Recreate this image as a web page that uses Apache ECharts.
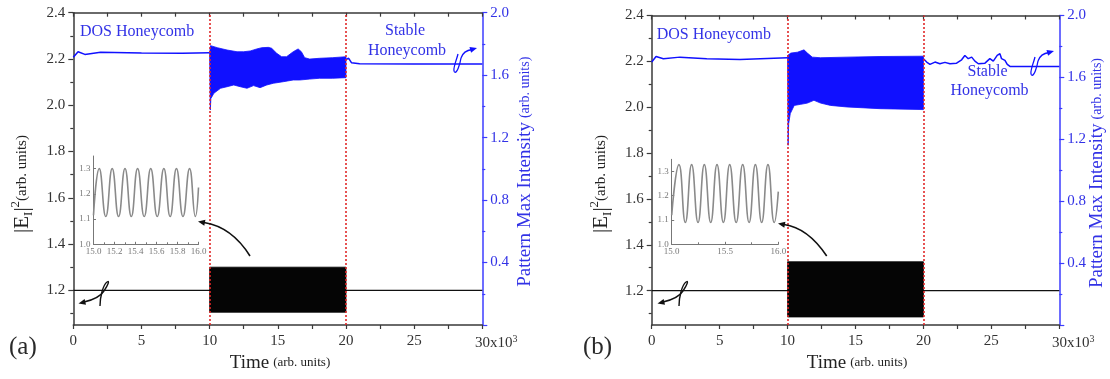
<!DOCTYPE html>
<html><head><meta charset="utf-8">
<script src="https://cdn.jsdelivr.net/npm/echarts@6/dist/echarts.min.js"></script>
<style>html,body{margin:0;padding:0;background:#fff}#c{width:1110px;height:379px}</style>
</head><body><div id="c"></div><script>
// ---------- data ----------
const leftTickLabels = [1.2, 1.4, 1.6, 1.8, 2.0, 2.2, 2.4];
const leftMinorTicks = [1.1, 1.3, 1.5, 1.7, 1.9, 2.1, 2.3];
const insetYTicks = [1.0, 1.1, 1.2, 1.3];
const switchTimes = [10, 20];

// panel (a) - blue: pattern max intensity (right axis)
const aPreT = [0, 0.35, 0.85, 2, 5, 8, 10];
const aPreV = [1.714, 1.750, 1.733, 1.746, 1.742, 1.740, 1.744];
const aBandHiT = [10.0, 10.07, 10.56, 11.28, 12.01, 12.49, 12.98, 13.46, 13.83, 14.31, 14.55, 14.92, 15.28, 15.64, 16.13, 16.49, 16.73, 16.97, 17.34, 18.06, 19.03, 20.0];
const aBandHiV = [1.744, 1.789, 1.776, 1.761, 1.750, 1.750, 1.755, 1.768, 1.776, 1.778, 1.772, 1.740, 1.718, 1.718, 1.750, 1.768, 1.750, 1.712, 1.703, 1.708, 1.712, 1.718];
const aBandLoT = [10.0, 10.05, 10.09, 10.31, 10.80, 11.28, 11.77, 12.25, 12.74, 13.22, 13.70, 14.19, 14.67, 15.40, 16.13, 16.61, 17.34, 18.06, 19.03, 20.0];
const aBandLoV = [1.744, 1.377, 1.45, 1.484, 1.516, 1.526, 1.537, 1.526, 1.516, 1.533, 1.520, 1.537, 1.548, 1.558, 1.569, 1.569, 1.575, 1.580, 1.580, 1.584];
const aPostT = [20.0, 20.1, 20.2, 20.4, 21, 25, 30];
const aPostV = [1.70, 1.70, 1.708, 1.68, 1.673, 1.672, 1.672];
// panel (a) - black: |E1|^2 (left axis)
const aBlackT = [0, 10, 20, 30];
const aBlackV = [1.2, 1.2, 1.2, 1.2];
const aBlackBandT = [10.0, 20.0];
const aBlackHi = [1.30, 1.30];
const aBlackLo = [1.105, 1.105];
// panel (a) inset
const aInsetT = [15.0, 15.055, 15.117, 15.178, 15.239, 15.30, 15.36, 15.42, 15.483, 15.545, 15.607, 15.67, 15.73, 15.79, 15.852, 15.915, 15.97, 16.0];
const aInsetV = [1.115, 1.30, 1.11, 1.30, 1.11, 1.30, 1.11, 1.30, 1.11, 1.30, 1.11, 1.30, 1.11, 1.30, 1.11, 1.30, 1.11, 1.225];

// panel (b) - blue
const bPreT = [0, 0.32, 0.86, 2.08, 4.05, 6.5, 10.0];
const bPreV = [1.699, 1.735, 1.721, 1.731, 1.721, 1.716, 1.727];
const bBandHiT = [10.0, 10.24, 10.73, 11.21, 11.46, 11.82, 12.43, 14.37, 16.80, 20.0];
const bBandHiV = [1.742, 1.757, 1.763, 1.778, 1.757, 1.731, 1.727, 1.731, 1.735, 1.737];
const bBandLoT = [10.0, 10.04, 10.08, 10.2, 10.49, 10.97, 11.46, 11.94, 12.43, 13.16, 14.37, 16.80, 20.0];
const bBandLoV = [1.727, 1.161, 1.30, 1.366, 1.419, 1.426, 1.434, 1.452, 1.434, 1.419, 1.409, 1.398, 1.392];
const bPostT = [20.0, 20.24, 20.48, 20.85, 21.21, 21.58, 21.95, 22.44, 22.81, 23.05, 23.30, 23.55, 23.79, 24.04, 24.53, 24.89, 25.14, 25.43, 25.63, 25.75, 26.0, 26.17, 26.37, 30];
const bPostV = [1.72, 1.699, 1.684, 1.699, 1.688, 1.697, 1.688, 1.692, 1.714, 1.742, 1.721, 1.731, 1.705, 1.688, 1.692, 1.721, 1.705, 1.742, 1.753, 1.721, 1.710, 1.684, 1.671, 1.671];
// panel (b) - black
const bBlackT = [0, 10, 20, 30];
const bBlackV = [1.2, 1.2, 1.2, 1.2];
const bBlackBandT = [10.0, 20.0];
const bBlackHi = [1.326, 1.326];
const bBlackLo = [1.085, 1.085];
// panel (b) inset
const bInsetT = [15.0, 15.068, 15.128, 15.187, 15.247, 15.306, 15.366, 15.425, 15.485, 15.544, 15.605, 15.666, 15.726, 15.785, 15.844, 15.903, 15.962, 16.0];
const bInsetV = [1.12, 1.328, 1.09, 1.328, 1.09, 1.328, 1.09, 1.328, 1.09, 1.328, 1.09, 1.328, 1.09, 1.328, 1.09, 1.328, 1.09, 1.217];

// ---------- styles ----------
const FONT = "'Liberation Serif','Times New Roman',serif";
const AX = '#3a3a3a';
const BLUE = '#1010ff';
const BLUE_AX = '#3c3cff';
const BLUE_TXT = '#3232e6';
const RED = '#e02828';
const GRAY = '#8a8a8a';
const zip = (a, b) => a.map((v, i) => [v, b[i]]);

const grids = [
  {left: 73.3, top: 12.7, width: 409, height: 312.3},
  {left: 93.5, top: 156, width: 105, height: 88.3},
  {left: 651.7, top: 15.5, width: 407.6, height: 309.5},
  {left: 671.7, top: 159.3, width: 106.6, height: 85}
];

const xAxes = [], yAxes = [], series = [];

function buildPanel(p, d) {
  const gMain = p * 2, gIn = p * 2 + 1;
  const xi = xAxes.length;
  xAxes.push({
    type: 'value', gridIndex: gMain, position: 'bottom', min: 0, max: 30, interval: 5,
    axisLine: {show: true, onZero: false, lineStyle: {color: AX, width: 1.5}},
    axisTick: {show: true, inside: false, length: 4, lineStyle: {color: AX, width: 1.2}},
    minorTick: {show: true, splitNumber: 2, length: 4, lineStyle: {color: AX, width: 1.2}},
    splitLine: {show: false}, minorSplitLine: {show: false},
    axisLabel: {
      show: true, margin: 9, color: '#333', fontFamily: FONT, fontSize: 15,
      formatter: v => v === 30 ? '{n|30x10}{s|3}' : String(v),
      rich: {
        n: {fontFamily: FONT, fontSize: 15, color: '#333', padding: [0, 0, 0, 28]},
        s: {fontFamily: FONT, fontSize: 10, color: '#333', verticalAlign: 'top', padding: [0, 0, 8, 0]}
      }
    }
  });
  xAxes.push({
    type: 'value', gridIndex: gMain, position: 'top', min: 0, max: 30, interval: 2.5,
    axisLine: {show: true, onZero: false, lineStyle: {color: AX, width: 1.5}},
    axisTick: {show: true, inside: true, length: 4, lineStyle: {color: AX, width: 1.2}},
    axisLabel: {show: false}, splitLine: {show: false}
  });
  const xInset = xAxes.length;
  xAxes.push({
    type: 'value', gridIndex: gIn, position: 'bottom', min: 15, max: 16, interval: p === 0 ? 0.2 : 0.5,
    axisLine: {show: true, onZero: false, lineStyle: {color: '#777', width: 1}},
    axisTick: {show: true, inside: true, length: 2.5, lineStyle: {color: '#777'}},
    minorTick: {show: true, splitNumber: 2, length: 2, lineStyle: {color: '#777'}},
    splitLine: {show: false},
    axisLabel: {show: true, margin: 3, color: '#777', fontFamily: FONT, fontSize: 9, formatter: v => v.toFixed(1)}
  });

  const yl = yAxes.length;
  yAxes.push({
    type: 'value', gridIndex: gMain, position: 'left', min: 1.05, max: 2.4,
    axisLine: {show: true, onZero: false, lineStyle: {color: AX, width: 1.5}},
    axisTick: {show: true, inside: false, length: 5, customValues: leftTickLabels, lineStyle: {color: AX, width: 1.2}},
    axisLabel: {show: true, margin: 8, customValues: leftTickLabels, color: '#333', fontFamily: FONT, fontSize: 15, formatter: v => v.toFixed(1)},
    splitLine: {show: false}
  });
  yAxes.push({
    type: 'value', gridIndex: gMain, position: 'left', min: 1.05, max: 2.4,
    axisLine: {show: false},
    axisTick: {show: true, inside: false, length: 3, customValues: leftMinorTicks, lineStyle: {color: AX, width: 1.2}},
    axisLabel: {show: false}, splitLine: {show: false}
  });
  const yr = yAxes.length;
  yAxes.push({
    type: 'value', gridIndex: gMain, position: 'right', min: 0, max: 2, interval: 0.4,
    axisLine: {show: true, onZero: false, lineStyle: {color: BLUE_AX, width: 1.5}},
    axisTick: {show: true, inside: false, length: 5, lineStyle: {color: BLUE_AX, width: 1.2}},
    minorTick: {show: true, splitNumber: 2, length: 3, lineStyle: {color: BLUE_AX, width: 1.2}},
    axisLabel: {show: true, margin: 8, showMinLabel: false, color: BLUE_TXT, fontFamily: FONT, fontSize: 15, formatter: v => v.toFixed(1)},
    splitLine: {show: false}, minorSplitLine: {show: false}
  });
  const yIn = yAxes.length;
  yAxes.push({
    type: 'value', gridIndex: gIn, position: 'left', min: 1.0, max: 1.35,
    axisLine: {show: true, onZero: false, lineStyle: {color: '#777', width: 1}},
    axisTick: {show: true, inside: true, length: 2.5, customValues: insetYTicks, lineStyle: {color: '#777'}},
    axisLabel: {show: true, margin: 3, customValues: insetYTicks, color: '#777', fontFamily: FONT, fontSize: 9, formatter: v => v.toFixed(1)},
    splitLine: {show: false}
  });

  // black line at steady level
  series.push({
    type: 'line', xAxisIndex: xi, yAxisIndex: yl, data: zip(d.blackT, d.blackV),
    showSymbol: false, symbol: 'none', lineStyle: {color: '#111', width: 1.3}, z: 3, silent: true,
    markLine: {
      silent: true, symbol: 'none', z: 20, label: {show: false},
      lineStyle: {color: RED, type: [2, 2], width: 1.6},
      data: switchTimes.map(t => ({xAxis: t}))
    }
  });
  series.push(band(xi, yl, d.blackBandT, d.blackHi, d.blackBandT, d.blackLo, '#050505', 4));
  // blue pattern max intensity
  series.push({type: 'line', xAxisIndex: xi, yAxisIndex: yr, data: zip(d.preT, d.preV), showSymbol: false, symbol: 'none', lineStyle: {color: BLUE, width: 1.5}, z: 5, silent: true});
  series.push(band(xi, yr, d.hiT, d.hiV, d.loT, d.loV, BLUE, 5));
  series.push({type: 'line', xAxisIndex: xi, yAxisIndex: yr, data: zip(d.postT, d.postV), showSymbol: false, symbol: 'none', lineStyle: {color: BLUE, width: 1.5}, z: 5, silent: true});
  // inset
  series.push({type: 'line', xAxisIndex: xInset, yAxisIndex: yIn, data: zip(d.inT, d.inV), smooth: 0.5, showSymbol: false, symbol: 'none', lineStyle: {color: GRAY, width: 1.6}, z: 6, silent: true});
}

function band(xi, yi, hiT, hiV, loT, loV, color, z) {
  return {
    type: 'custom', xAxisIndex: xi, yAxisIndex: yi, z: z, silent: true,
    data: [[hiT[0], hiV[0]]],
    renderItem: (params, api) => {
      const pts = [];
      for (let i = 0; i < hiT.length; i++) pts.push(api.coord([hiT[i], hiV[i]]));
      for (let i = loT.length - 1; i >= 0; i--) pts.push(api.coord([loT[i], loV[i]]));
      return {type: 'polygon', shape: {points: pts}, style: {fill: color, stroke: color, lineWidth: 0.8}};
    }
  };
}

buildPanel(0, {blackT: aBlackT, blackV: aBlackV, blackBandT: aBlackBandT, blackHi: aBlackHi, blackLo: aBlackLo,
  preT: aPreT, preV: aPreV, hiT: aBandHiT, hiV: aBandHiV, loT: aBandLoT, loV: aBandLoV, postT: aPostT, postV: aPostV,
  inT: aInsetT, inV: aInsetV});
buildPanel(1, {blackT: bBlackT, blackV: bBlackV, blackBandT: bBlackBandT, blackHi: bBlackHi, blackLo: bBlackLo,
  preT: bPreT, preV: bPreV, hiT: bBandHiT, hiV: bBandHiV, loT: bBandLoT, loV: bBandLoV, postT: bPostT, postV: bPostV,
  inT: bInsetT, inV: bInsetV});

// ---------- annotations ----------
function arrowHead(tip, from, color) {
  const dx = tip[0] - from[0], dy = tip[1] - from[1], L = Math.hypot(dx, dy), ux = dx / L, uy = dy / L;
  const bx = tip[0] - ux * 7, by = tip[1] - uy * 7;
  return {type: 'polygon', shape: {points: [tip, [bx - uy * 3, by + ux * 3], [bx + uy * 3, by - ux * 3]]}, style: {fill: color}, z: 100, silent: true};
}
function cubic(s, dx, dy, color, w) {
  return {type: 'bezierCurve', silent: true, z: 100,
    shape: {x1: s[0] + dx, y1: s[1] + dy, cpx1: s[2] + dx, cpy1: s[3] + dy, cpx2: s[4] + dx, cpy2: s[5] + dy, x2: s[6] + dx, y2: s[7] + dy},
    style: {stroke: color, lineWidth: w, fill: 'none'}};
}
const blackSquiggle = [[84, 302, 93, 300, 100, 297, 104, 291], [104, 291, 108, 285, 110, 280, 107, 282], [107, 282, 103, 285, 100, 297, 100, 306]];
const blueSquiggle = [[458, 54, 456, 62, 452, 70, 454.5, 72], [454.5, 72, 457, 74, 460, 64, 461, 58], [461, 58, 463, 52, 468, 50, 472, 49.5]];
const graphics = [];
[[0, 0], [579, 0]].forEach(([dx, dy]) => {
  blackSquiggle.forEach(s => graphics.push(cubic(s, dx, dy, '#111', 1.4)));
  graphics.push(arrowHead([78.5 + dx, 303.5 + dy], [85 + dx, 302 + dy], '#111'));
});
[[0, 0], [577, 3]].forEach(([dx, dy]) => {
  blueSquiggle.forEach(s => graphics.push(cubic(s, dx, dy, BLUE, 1.3)));
  graphics.push(arrowHead([477 + dx, 48 + dy], [471 + dx, 49.7 + dy], BLUE));
});
graphics.push(cubic([250, 256, 240, 240, 226, 226, 204, 222.5], 0, 0, '#111', 1.6));
graphics.push(arrowHead([198, 221.5], [206, 223], '#111'));
graphics.push(cubic([826.7, 256, 816, 240, 802, 227, 784, 224.5], 0, 0, '#111', 1.6));
graphics.push(arrowHead([778, 223.5], [786, 225], '#111'));

function txt(text, x, y, opt) {
  return Object.assign({type: 'text', silent: true, z: 110, x: x, y: y,
    style: Object.assign({text: text, fontFamily: FONT, fontSize: 16, fill: BLUE_TXT, align: 'center', verticalAlign: 'middle'}, opt || {})});
}
graphics.push(txt('DOS Honeycomb', 80, 32, {align: 'left'}));
graphics.push(txt('Stable', 405, 30.7));
graphics.push(txt('Honeycomb', 407, 50.7));
graphics.push(txt('DOS Honeycomb', 656.7, 35, {align: 'left'}));
graphics.push(txt('Stable', 987.5, 71.7));
graphics.push(txt('Honeycomb', 989.5, 90.7));
graphics.push(txt('(a)', 9, 347.5, {align: 'left', fontSize: 25, fill: '#2a2a2a'}));
graphics.push(txt('(b)', 583, 347.5, {align: 'left', fontSize: 25, fill: '#2a2a2a'}));

const xTitleRich = {
  t: {fontFamily: FONT, fontSize: 19, fill: '#222'},
  s: {fontFamily: FONT, fontSize: 13, fill: '#222'}
};
graphics.push(txt('{t|Time} {s|(arb. units)}', 280, 363, {rich: xTitleRich, fill: '#222'}));
graphics.push(txt('{t|Time} {s|(arb. units)}', 857, 363, {rich: xTitleRich, fill: '#222'}));

const leftTitleRich = {
  b: {fontFamily: FONT, fontSize: 21, fill: '#222', lineHeight: 26, verticalAlign: 'middle'},
  sub: {fontFamily: FONT, fontSize: 13, fill: '#222', verticalAlign: 'bottom', lineHeight: 26},
  sup: {fontFamily: FONT, fontSize: 13, fill: '#222', verticalAlign: 'top', lineHeight: 26},
  s: {fontFamily: FONT, fontSize: 15, fill: '#222', lineHeight: 26, verticalAlign: 'middle'}
};
const leftTitle = '{b||E}{sub|I}{b||}{sup|2}{s|(arb. units)}';
graphics.push(Object.assign(txt(leftTitle, 22, 184, {rich: leftTitleRich, fill: '#222'}), {rotation: Math.PI / 2}));
graphics.push(Object.assign(txt(leftTitle, 601, 184, {rich: leftTitleRich, fill: '#222'}), {rotation: Math.PI / 2}));

const rightTitleRich = {
  b: {fontFamily: FONT, fontSize: 19, fill: BLUE_TXT},
  s: {fontFamily: FONT, fontSize: 14, fill: BLUE_TXT}
};
const rightTitle = '{b|Pattern Max Intensity} {s|(arb. units)}';
graphics.push(Object.assign(txt(rightTitle, 525.5, 171.7, {rich: rightTitleRich, fill: BLUE_TXT}), {rotation: Math.PI / 2}));
graphics.push(Object.assign(txt(rightTitle, 1097, 173, {rich: rightTitleRich, fill: BLUE_TXT}), {rotation: Math.PI / 2}));

const chart = echarts.init(document.getElementById('c'), null, {renderer: 'canvas'});
chart.setOption({
  animation: false,
  backgroundColor: '#fff',
  grid: grids.map(g => Object.assign({containLabel: false, outerBoundsMode: 'none'}, g)),
  xAxis: xAxes,
  yAxis: yAxes,
  series: series,
  graphic: {elements: graphics}
});
</script></body></html>
